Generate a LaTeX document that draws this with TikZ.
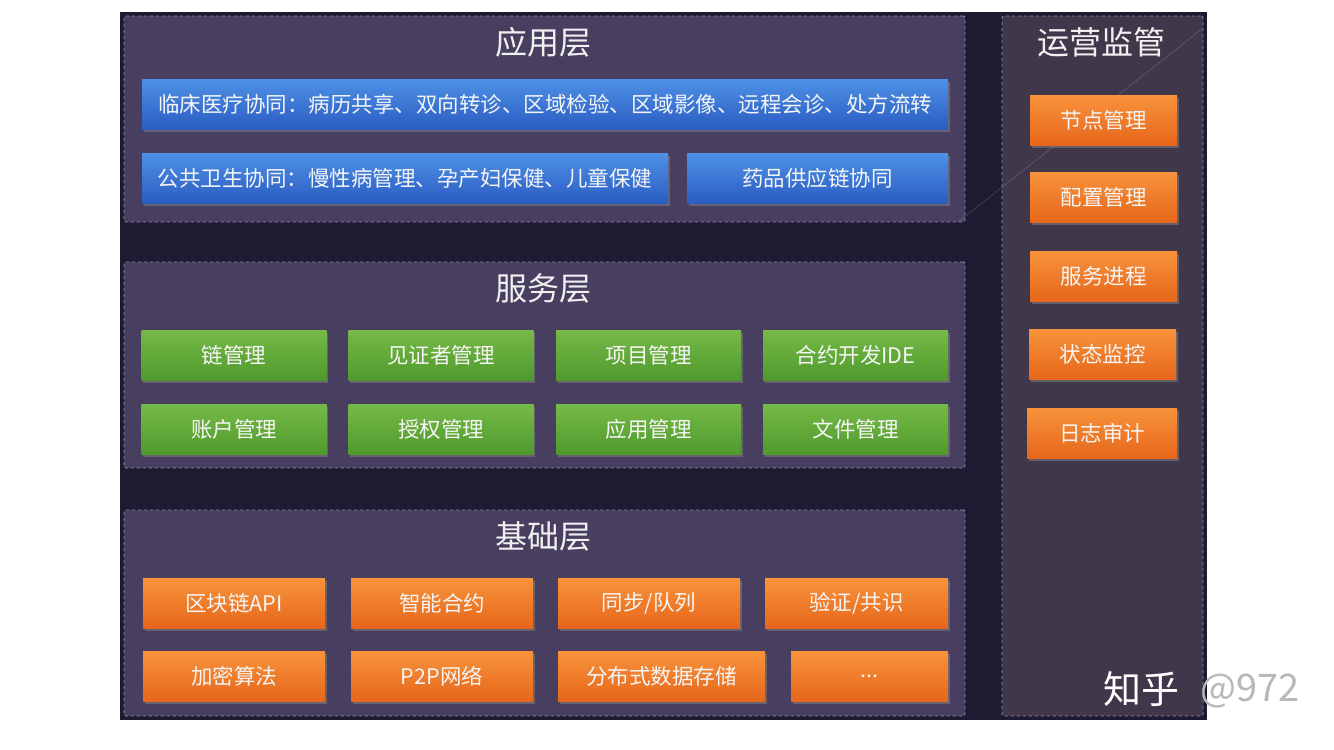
\documentclass[tikz,border=0pt]{standalone}
\usepackage{fontspec}
\setmainfont{Noto Sans CJK SC}
\usetikzlibrary{shadows}
\definecolor{outerbg}{HTML}{1E1A31}
\definecolor{panelbg}{HTML}{483F60}
\definecolor{opsbg}{HTML}{40374B}
\definecolor{panelline}{HTML}{918AA6}
\definecolor{bluetop}{HTML}{4E90E6}
\definecolor{bluebot}{HTML}{2A5DC2}
\definecolor{greentop}{HTML}{76BA48}
\definecolor{greenbot}{HTML}{4F9A2C}
\definecolor{orangetop}{HTML}{F8933B}
\definecolor{orangebot}{HTML}{E6661B}
\tikzset{
  panel/.style={draw=panelline, dashed, fill=panelbg, line width=0.9pt, rounded corners=2pt, inner sep=0},
  layertitle/.style={text=white!88!gray, font=\fontsize{32}{36}\selectfont},
  box/.style={minimum height=50pt, inner sep=0, text=white!92!gray, font=\fontsize{21.5}{25}\selectfont,
    drop shadow={shadow xshift=1.5pt, shadow yshift=-3pt, opacity=0.55}},
  bluebox/.style={box, top color=bluetop, bottom color=bluebot},
  greenbox/.style={box, top color=greentop, bottom color=greenbot},
  orangebox/.style={box, top color=orangetop, bottom color=orangebot},
}
\begin{document}
\begin{tikzpicture}[x=1pt,y=-1pt]
\useasboundingbox (0,0) rectangle (1334,750);
\fill[outerbg] (120,12) rectangle (1207,720);
% layer panels
\node[panel, minimum width=841pt, minimum height=206pt] (app) at (544.5,119){};
\node[panel, minimum width=841pt, minimum height=206pt] (srv) at (544.5,365){};
\node[panel, minimum width=841pt, minimum height=206pt] (base) at (544.5,613){};
\node[panel, fill=opsbg, minimum width=201pt, minimum height=700pt] (ops) at (1102.5,366){};
\draw[white, opacity=0.15, line width=0.8pt] (1203,28) -- (958,222);
% titles
\node[layertitle] (apptitle) at (543,42){应用层};
\node[layertitle] (srvtitle) at (543,288){服务层};
\node[layertitle] (basetitle) at (543,536){基础层};
\node[layertitle] (opstitle) at (1101,42){运营监管};
% application layer
\node[bluebox, minimum width=806pt] (clinic) at (545,104){临床医疗协同：病历共享、双向转诊、区域检验、区域影像、远程会诊、处方流转};
\node[bluebox, minimum width=526pt] (public) at (405,178){公共卫生协同：慢性病管理、孕产妇保健、儿童保健};
\node[bluebox, minimum width=261pt] (drug) at (817.5,178){药品供应链协同};
% service layer
\node[greenbox, minimum width=185pt] (chain) at (234,355){链管理};
\node[greenbox, minimum width=185pt] (witness) at (441,355){见证者管理};
\node[greenbox, minimum width=185pt] (project) at (648.5,355){项目管理};
\node[greenbox, minimum width=185pt] (ide) at (855.5,355){合约开发IDE};
\node[greenbox, minimum width=185pt] (account) at (234,429){账户管理};
\node[greenbox, minimum width=185pt] (auth) at (441,429){授权管理};
\node[greenbox, minimum width=185pt] (appmgr) at (648.5,429){应用管理};
\node[greenbox, minimum width=185pt] (file) at (855.5,429){文件管理};
% base layer
\node[orangebox, minimum width=182pt] (api) at (234,603){区块链API};
\node[orangebox, minimum width=182pt] (contract) at (442,603){智能合约};
\node[orangebox, minimum width=182pt] (sync) at (649,603){同步/队列};
\node[orangebox, minimum width=183pt] (consensus) at (856.5,603){验证/共识};
\node[orangebox, minimum width=182pt] (crypto) at (234,676){加密算法};
\node[orangebox, minimum width=182pt] (ptp) at (442,676){P2P网络};
\node[orangebox, minimum width=207pt] (storage) at (661.5,676){分布式数据存储};
\node[orangebox, minimum width=157pt] (more) at (869.5,676){...};
% operation column
\node[orangebox, minimum width=147pt] (nodemgr) at (1103.5,120){节点管理};
\node[orangebox, minimum width=147pt] (config) at (1103.5,197){配置管理};
\node[orangebox, minimum width=147pt] (process) at (1103.5,276){服务进程};
\node[orangebox, minimum width=147pt] (status) at (1102.5,354){状态监控};
\node[orangebox, minimum width=150pt] (audit) at (1102,433){日志审计};
% watermark
\node[text=white, font=\fontsize{38}{40}\selectfont] (zhihu) at (1141,689){知乎};
\node[text=black!28, font=\fontsize{38}{40}\selectfont] (handle) at (1250,691){@972};
\end{tikzpicture}
\end{document}
